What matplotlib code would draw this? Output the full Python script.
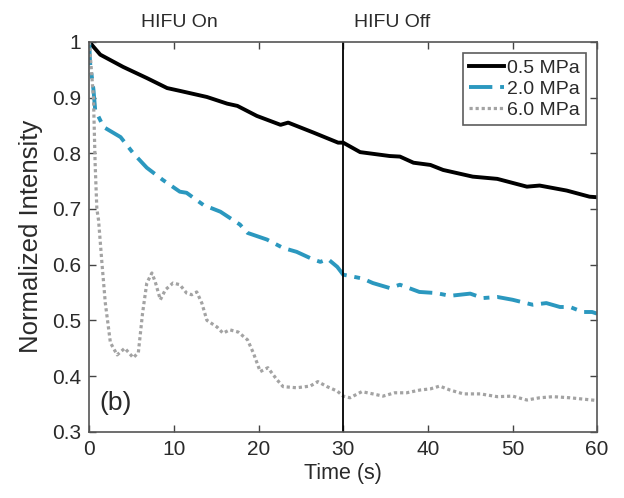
import matplotlib.pyplot as plt
import numpy as np

plt.rcParams['font.family'] = ['Liberation Sans', 'DejaVu Sans']

# 0.5 MPa
t_05 = [0, 1.3, 4.0, 6.8, 9.2, 10.7, 13.9, 16.3, 17.5, 19.8, 22.6, 23.5, 26.5, 29.4, 30,
        32, 35.5, 36.7, 38.3, 40.3, 41.8, 45.3, 48.2, 51.7, 53.2, 56.4, 59.1, 60]
v_05 = [1.0, 0.977, 0.955, 0.935, 0.917, 0.912, 0.901, 0.889, 0.885, 0.867, 0.851, 0.855, 0.837, 0.819, 0.819,
        0.802, 0.795, 0.794, 0.783, 0.779, 0.770, 0.758, 0.754, 0.740, 0.742, 0.733, 0.722, 0.721]

# 2.0 MPa
t_20 = [0, 0.1, 0.5, 0.7, 1.7, 3.7, 5.2, 6.8, 8.7, 10.7, 11.5, 13.5, 15.5, 17.8, 18.7, 21, 22.9,
        24.5, 26.5, 27.3, 28.2, 29.3, 30, 32.3, 33.5, 35.5, 36.7, 39, 41, 42.6, 45, 46.5, 48.2,
        50, 52.4, 54, 55.6, 56.8, 58.3, 59.4, 60]
v_20 = [1.0, 0.962, 0.914, 0.878, 0.847, 0.829, 0.80, 0.774, 0.752, 0.731, 0.729, 0.707, 0.695, 0.672, 0.657, 0.645, 0.630,
        0.623, 0.609, 0.605, 0.610, 0.596, 0.582, 0.575, 0.567, 0.558, 0.564, 0.551, 0.549, 0.544, 0.548, 0.540, 0.542,
        0.537, 0.528, 0.531, 0.524, 0.524, 0.515, 0.515, 0.512]

# 6.0 MPa
t_60 = [0, 0.5, 0.7, 0.9, 1.1, 1.5, 1.9, 2.5, 3.3, 4.2, 5.2, 5.8, 6.3, 6.8, 7.4, 7.8, 8.4, 9.0,
        9.9, 10.7, 11.5, 12.1, 12.7, 13.3, 13.9, 15.1, 15.8, 16.6, 17.6, 18.7, 19.4, 20.2, 21.1,
        22.2, 22.9, 24.5, 26.1, 27, 28.1, 29.3, 30, 30.8, 32.2, 33.5, 34.7, 36.1, 37.5, 39.1,
        40.3, 41.4, 42.6, 44.2, 46.2, 48.2, 50, 51.7, 53.2, 54.8, 56.8, 59.4, 60]
v_60 = [1.0, 0.90, 0.78, 0.70, 0.68, 0.603, 0.531, 0.46, 0.438, 0.45, 0.433, 0.442, 0.513, 0.567, 0.585, 0.569, 0.537, 0.555,
        0.567, 0.564, 0.549, 0.546, 0.551, 0.531, 0.50, 0.488, 0.477, 0.483, 0.479, 0.465, 0.441, 0.408, 0.415,
        0.393, 0.381, 0.379, 0.382, 0.390, 0.381, 0.373, 0.364, 0.361, 0.372, 0.368, 0.364, 0.370, 0.370, 0.375,
        0.377, 0.382, 0.375, 0.368, 0.368, 0.363, 0.364, 0.357, 0.361, 0.363, 0.361, 0.357, 0.356]

txt = '#2a2a2a'

fig = plt.figure(figsize=(6.24, 4.98), dpi=100)
ax = fig.add_axes([0.143, 0.133, 0.814, 0.783])

ax.plot(t_05, v_05, color='black', lw=2.8, label='0.5 MPa')
ax.plot(t_20, v_20, color='#2b98bf', lw=2.8, ls=(0, (6, 2, 1.5, 2)), label='2.0 MPa')
ax.plot(t_60, v_60, color='#a3a3a3', lw=2.3, ls=(0, (1, 0.9)), dash_capstyle='butt', label='6.0 MPa')

ax.axvline(30, color='black', lw=1.3)

ax.set_xlim(0, 60)
ax.set_ylim(0.3, 1.0)
ax.set_xticks(np.arange(0, 61, 10))
ax.set_yticks(np.arange(0.3, 1.01, 0.1))
ax.set_yticklabels(['0.3', '0.4', '0.5', '0.6', '0.7', '0.8', '0.9', '1'])
ax.tick_params(direction='in', top=True, right=True, length=5, width=1,
               labelsize=15, labelcolor=txt, color='#444444')
ax.tick_params(axis='x', pad=6)
ax.tick_params(axis='y', pad=6)
for s in ax.spines.values():
    s.set_color('#555555')
    s.set_linewidth(1.2)

ax.set_xlabel('Time (s)', fontsize=15.5, color=txt, labelpad=3)
ax.set_ylabel('Normalized Intensity', fontsize=18.5, color=txt, labelpad=6)

ax.text(10.6, 1.035, 'HIFU On', ha='center', va='center', fontsize=14, color=txt)
ax.text(35.8, 1.035, 'HIFU Off', ha='center', va='center', fontsize=14, color=txt)
ax.text(1.2, 0.352, '(b)', fontsize=19, color=txt, va='center')

leg = ax.legend(loc='upper right', fontsize=14, frameon=True, fancybox=False,
                edgecolor='#333333', handlelength=1.8, handletextpad=0.15,
                borderpad=0.3, labelspacing=0.18, borderaxespad=0.6)
leg.get_frame().set_linewidth(1.2)
for t in leg.get_texts():
    t.set_color(txt)

fig.savefig('out.png', dpi=100)
